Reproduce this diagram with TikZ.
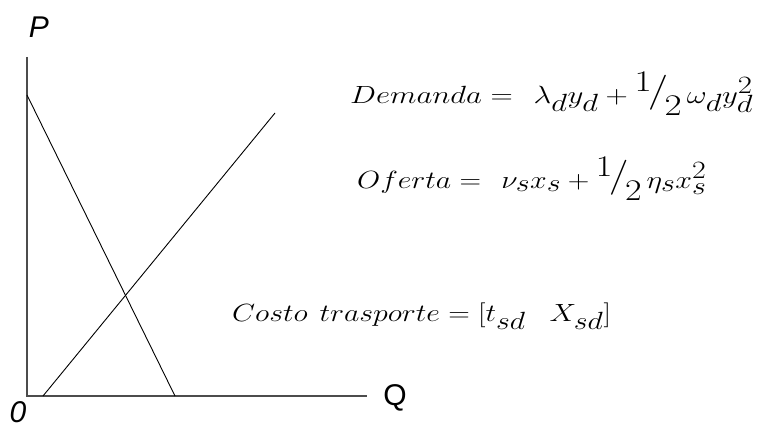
\documentclass[tikz,border=0pt]{standalone}
\usepackage{fontspec}
\newfontfamily\axfont{Liberation Sans}
\DeclareMathSizes{33}{33}{24}{18}
\newcommand{\halfnum}{\mathord{\raisebox{0.36em}{\fontsize{30}{30}\selectfont 1}\mkern-2mu\raisebox{0.05em}{\fontsize{35}{35}\selectfont/}\mkern-2mu\raisebox{-0.38em}{\fontsize{30}{30}\selectfont 2}}}
\newcommand{\wide}[2]{\scalebox{#1}[1]{#2}}
\begin{document}
\begin{tikzpicture}[x=1pt,y=-1pt,
  axis/.style={draw=black!70,line width=1.5pt},
  curve/.style={draw=black,line width=0.9pt},
  axlab/.style={font=\axfont\fontsize{30}{34}\selectfont,inner sep=0pt},
  eqn/.style={font=\fontsize{33}{38}\selectfont,inner sep=0pt,anchor=base west}]
\useasboundingbox (0,0) rectangle (771,428);
\coordinate (top) at (27,57);
\coordinate (o) at (27,396);
\coordinate (qend) at (367,396);
\coordinate (d1) at (27,95);
\coordinate (d2) at (175,396);
\coordinate (s1) at (43,396);
\coordinate (s2) at (275,113);
\draw[axis] (top) -- (o) -- (qend);
\draw[curve] (d1) -- (d2);
\draw[curve] (s1) -- (s2);
\node[axlab] (P) at (39,27) {\itshape P};
\node[axlab] (Z) at (18,412) {\itshape 0};
\node[axlab] (Q) at (395,398) {Q};
\node[eqn] (dem) at (350,103) {\wide{1.24}{$Demanda=\ \lambda_d y_d+\halfnum\,\omega_d y_d^2$}};
\node[eqn] (of) at (357,188) {\wide{1.2}{$Oferta=\ \nu_s x_s+\halfnum\,\eta_s x_s^2$}};
\node[eqn] (co) at (232,321) {\wide{1.2}{$Costo\ trasporte=\bigl[t_{sd}\ \ X_{sd}\bigr]$}};
\end{tikzpicture}
\end{document}
